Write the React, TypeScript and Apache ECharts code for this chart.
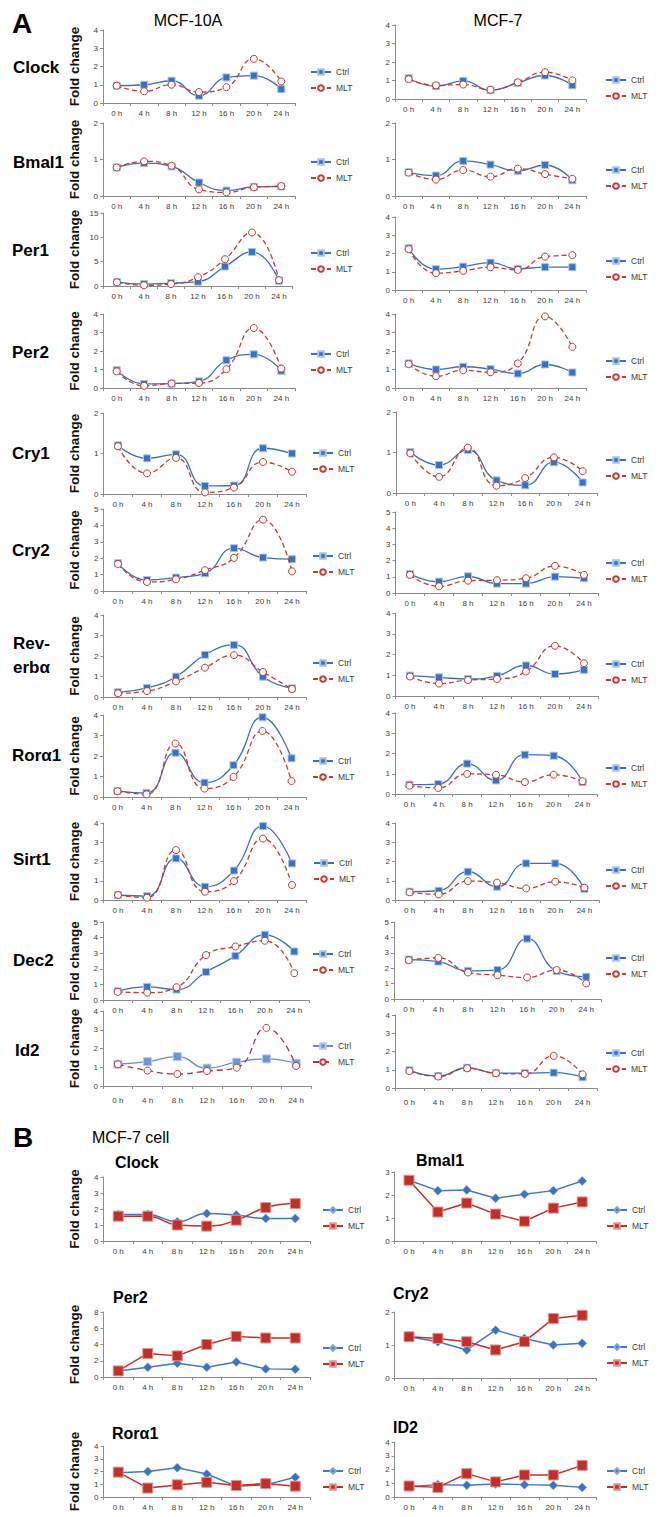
import React, { useEffect, useRef } from 'react';
import * as echarts from 'echarts';

const hours = ['0 h', '4 h', '8 h', '12 h', '16 h', '20 h', '24 h'];

// ---- Panel A, MCF-10A ----
const a10ClockCtrl = [0.95, 1.0, 1.22, 0.4, 1.4, 1.5, 0.76];
const a10ClockMlt = [0.95, 0.64, 1.0, 0.6, 0.87, 2.42, 1.18];
const a10Bmal1Ctrl = [0.78, 0.9, 0.81, 0.37, 0.15, 0.25, 0.26];
const a10Bmal1Mlt = [0.78, 0.95, 0.83, 0.18, 0.1, 0.24, 0.27];
const a10Per1Ctrl = [0.8, 0.4, 0.6, 0.9, 4.0, 7.0, 1.1];
const a10Per1Mlt = [0.75, 0.15, 0.4, 1.8, 5.5, 11.0, 1.2];
const a10Per2Ctrl = [0.96, 0.22, 0.24, 0.36, 1.5, 1.82, 0.93];
const a10Per2Mlt = [0.9, 0.12, 0.24, 0.27, 1.02, 3.24, 1.05];
const a10Cry1Ctrl = [1.2, 0.88, 0.98, 0.2, 0.21, 1.13, 1.0];
const a10Cry1Mlt = [1.18, 0.51, 0.89, 0.04, 0.16, 0.79, 0.55];
const a10Cry2Ctrl = [1.69, 0.67, 0.82, 1.08, 2.61, 2.04, 1.94];
const a10Cry2Mlt = [1.65, 0.55, 0.71, 1.27, 2.02, 4.35, 1.2];
const a10RevCtrl = [0.23, 0.44, 0.99, 2.06, 2.54, 0.99, 0.42];
const a10RevMlt = [0.18, 0.29, 0.76, 1.43, 2.04, 1.22, 0.39];
const a10RorCtrl = [0.29, 0.2, 2.16, 0.7, 1.55, 3.89, 1.89];
const a10RorMlt = [0.28, 0.13, 2.61, 0.41, 0.98, 3.22, 0.78];
const a10Sirt1Ctrl = [0.26, 0.2, 2.16, 0.69, 1.53, 3.84, 1.9];
const a10Sirt1Mlt = [0.26, 0.12, 2.59, 0.43, 0.98, 3.19, 0.78];
const a10Dec2Ctrl = [0.56, 0.84, 0.67, 1.8, 2.83, 4.18, 3.11];
const a10Dec2Mlt = [0.52, 0.47, 0.82, 2.88, 3.43, 3.8, 1.72];
const a10Id2Ctrl = [1.16, 1.3, 1.57, 0.95, 1.27, 1.45, 1.2];
const a10Id2Mlt = [1.16, 0.82, 0.64, 0.8, 0.98, 3.1, 1.07];

// ---- Panel A, MCF-7 ----
const a7ClockCtrl = [1.12, 0.69, 0.98, 0.47, 0.87, 1.27, 0.74];
const a7ClockMlt = [1.07, 0.74, 0.78, 0.5, 0.9, 1.45, 1.01];
const a7Bmal1Ctrl = [0.65, 0.56, 0.96, 0.86, 0.69, 0.85, 0.43];
const a7Bmal1Mlt = [0.64, 0.45, 0.71, 0.53, 0.75, 0.6, 0.47];
const a7Per1Ctrl = [2.29, 1.14, 1.28, 1.5, 1.16, 1.25, 1.25];
const a7Per1Mlt = [2.24, 0.92, 1.05, 1.25, 1.1, 1.83, 1.91];
const a7Per2Ctrl = [1.33, 1.0, 1.15, 1.02, 0.78, 1.27, 0.84];
const a7Per2Mlt = [1.29, 0.64, 0.96, 0.85, 1.33, 3.87, 2.22];
const a7Cry1Ctrl = [1.01, 0.69, 1.06, 0.31, 0.19, 0.76, 0.26];
const a7Cry1Mlt = [0.98, 0.4, 1.12, 0.18, 0.37, 0.88, 0.54];
const a7Cry2Ctrl = [1.18, 0.7, 1.03, 0.58, 0.58, 1.01, 0.91];
const a7Cry2Mlt = [1.12, 0.41, 0.76, 0.79, 0.91, 1.67, 1.12];
const a7RevCtrl = [0.98, 0.9, 0.82, 0.97, 1.47, 1.06, 1.26];
const a7RevMlt = [0.94, 0.6, 0.77, 0.82, 1.18, 2.42, 1.58];
const a7RorCtrl = [0.46, 0.49, 1.5, 0.67, 1.94, 1.89, 0.59];
const a7RorMlt = [0.41, 0.3, 0.99, 0.95, 0.59, 0.95, 0.63];
const a7Sirt1Ctrl = [0.43, 0.48, 1.47, 0.69, 1.9, 1.9, 0.57];
const a7Sirt1Mlt = [0.4, 0.29, 0.98, 0.9, 0.6, 0.95, 0.64];
const a7Dec2Ctrl = [2.56, 2.43, 1.83, 1.88, 3.92, 1.81, 1.44];
const a7Dec2Mlt = [2.52, 2.67, 1.72, 1.55, 1.4, 1.88, 1.01];
const a7Id2Ctrl = [0.97, 0.66, 1.11, 0.81, 0.81, 0.84, 0.59];
const a7Id2Mlt = [0.93, 0.63, 1.08, 0.81, 0.77, 1.76, 0.75];

// ---- Panel B, MCF-7 cell ----
const bClockCtrl = [1.66, 1.66, 1.2, 1.72, 1.62, 1.41, 1.41];
const bClockMlt = [1.55, 1.55, 1.0, 0.93, 1.3, 2.09, 2.34];
const bBmal1Ctrl = [2.64, 2.19, 2.22, 1.86, 2.03, 2.19, 2.61];
const bBmal1Mlt = [2.64, 1.26, 1.65, 1.17, 0.86, 1.43, 1.7];
const bPer2Ctrl = [0.75, 1.2, 1.7, 1.2, 1.85, 1.0, 0.95];
const bPer2Mlt = [0.75, 2.9, 2.6, 4.0, 5.0, 4.8, 4.8];
const bCry2Ctrl = [1.25, 1.1, 0.85, 1.45, 1.2, 1.0, 1.05];
const bCry2Mlt = [1.25, 1.2, 1.1, 0.85, 1.1, 1.8, 1.9];
const bRorCtrl = [1.9, 2.0, 2.3, 1.8, 0.85, 0.95, 1.55];
const bRorMlt = [1.95, 0.7, 0.95, 1.15, 0.9, 1.05, 0.85];
const bId2Ctrl = [0.75, 0.9, 0.85, 0.95, 0.9, 0.85, 0.7];
const bId2Mlt = [0.8, 0.7, 1.7, 1.1, 1.6, 1.6, 2.3];

// y-axis maxima / intervals
const a10Max = [4, 2, 15, 4, 2, 5, 4, 4, 4, 5, 4];
const a10Step = [1, 1, 5, 1, 1, 1, 1, 1, 1, 1, 1];
const a7Max = [4, 2, 4, 4, 2, 5, 4, 4, 4, 5, 4];
const a7Step = [1, 1, 1, 1, 1, 1, 1, 1, 1, 1, 1];
const bMax = [4, 3, 8, 2, 4, 4];
const bStep = [1, 1, 2, 1, 1, 1];

const genesA = ['Clock', 'Bmal1', 'Per1', 'Per2', 'Cry1', 'Cry2', 'Rev-erbα', 'Rorα1', 'Sirt1', 'Dec2', 'Id2'];
const genesB = ['Clock', 'Bmal1', 'Per2', 'Cry2', 'Rorα1', 'ID2'];

const a10Data = [
  [a10ClockCtrl, a10ClockMlt], [a10Bmal1Ctrl, a10Bmal1Mlt], [a10Per1Ctrl, a10Per1Mlt], [a10Per2Ctrl, a10Per2Mlt],
  [a10Cry1Ctrl, a10Cry1Mlt], [a10Cry2Ctrl, a10Cry2Mlt], [a10RevCtrl, a10RevMlt], [a10RorCtrl, a10RorMlt],
  [a10Sirt1Ctrl, a10Sirt1Mlt], [a10Dec2Ctrl, a10Dec2Mlt], [a10Id2Ctrl, a10Id2Mlt],
];
const a7Data = [
  [a7ClockCtrl, a7ClockMlt], [a7Bmal1Ctrl, a7Bmal1Mlt], [a7Per1Ctrl, a7Per1Mlt], [a7Per2Ctrl, a7Per2Mlt],
  [a7Cry1Ctrl, a7Cry1Mlt], [a7Cry2Ctrl, a7Cry2Mlt], [a7RevCtrl, a7RevMlt], [a7RorCtrl, a7RorMlt],
  [a7Sirt1Ctrl, a7Sirt1Mlt], [a7Dec2Ctrl, a7Dec2Mlt], [a7Id2Ctrl, a7Id2Mlt],
];
const bData = [
  [bClockCtrl, bClockMlt], [bBmal1Ctrl, bBmal1Mlt], [bPer2Ctrl, bPer2Mlt],
  [bCry2Ctrl, bCry2Mlt], [bRorCtrl, bRorMlt], [bId2Ctrl, bId2Mlt],
];

// ---- layout (pixels) ----
// [top, bottom, left, width, legendX, legendY, labelMargin]
const layA10 = [
  [30, 103, 103, 192, 310, 72, 6],
  [123, 196, 103, 192, 310, 162, 6],
  [213, 286, 103.5, 189, 310, 253, 6],
  [314, 388, 103, 192, 310, 354, 6],
  [413, 494, 103.5, 203, 312, 453, 6],
  [509, 591, 103.5, 203, 312, 556, 6],
  [615, 697, 103.5, 203, 312, 663, 6],
  [715, 797, 103, 203, 312, 761, 6],
  [823, 900, 103.5, 203, 313, 863, 6],
  [922, 1000, 103, 206, 312, 954, 6],
  [1011, 1086, 103, 208, 312, 1046, 10],
];
const layA7 = [
  [25, 99, 395, 191, 605, 80, 6],
  [123, 196, 395, 191, 605, 170, 6],
  [217, 290, 395, 191, 605, 261, 6],
  [314, 388, 395, 191, 605, 361, 6],
  [412, 493, 396, 201, 605, 460, 6],
  [512, 593, 395.5, 203, 605, 563, 6],
  [613, 696, 395.5, 203, 605, 664, 6],
  [713, 794, 395, 202, 605, 768, 6],
  [823, 900, 395, 204, 605, 870, 6],
  [922, 999, 394, 207, 605, 958, 6],
  [1015, 1088, 395, 202, 605, 1053, 10],
];
const layB = [
  [1177, 1241, 103.5, 206.5, 322, 1210, 6],
  [1172, 1241, 394.6, 202, 606, 1210, 6],
  [1312, 1377, 103.5, 206.5, 322, 1348, 6],
  [1312, 1378, 394.6, 202, 606, 1347, 6],
  [1446, 1497, 103.5, 206.5, 322, 1471, 6],
  [1442, 1497, 394.6, 202, 606, 1471, 6],
];
// gene label positions panel A: [x, y]
const geneAPos = [[13, 67], [13, 162], [12, 250], [12, 352], [12, 453], [12, 550], [13, 655], [12, 755], [13, 859], [13, 960], [15, 1050]];
const titleBPos = [[115, 1162], [416, 1160], [113, 1297], [393, 1293], [112, 1433], [393, 1427]];

const FONT = '"Liberation Sans", Arial, Helvetica, sans-serif';
const BLUE = '#3e6fb6';
const BLUE_MK = '#3a72c2';
const BLUE_BD = '#a8c3ea';
const RED = '#c53a31';
const AX = '#8c8c8c';
const LBL = '#3c3c3c';

type Sty = 'A' | 'I' | 'B';

function buildOption() {
  const grid: any[] = [];
  const xAxis: any[] = [];
  const yAxis: any[] = [];
  const series: any[] = [];
  const legend: any[] = [];
  const graphic: any[] = [];

  const add = (lay: number[], max: number, step: number, pair: number[][], sty: Sty, fold: boolean, smooth: boolean) => {
    const i = grid.length;
    const [top, bottom, left, width, lx, ly, lm] = lay;
    grid.push({ left, top, width, height: bottom - top });
    xAxis.push({
      type: 'category', gridIndex: i, data: hours, boundaryGap: true,
      axisLine: { lineStyle: { color: AX, width: 1 } },
      axisTick: { show: true, length: 3, lineStyle: { color: AX } },
      axisLabel: { fontSize: 8, color: LBL, margin: lm, fontFamily: FONT, interval: 0 },
      splitLine: { show: false },
    });
    yAxis.push({
      type: 'value', gridIndex: i, min: 0, max, interval: step,
      splitLine: { show: false },
      axisLine: { show: true, lineStyle: { color: AX, width: 1 } },
      axisTick: { show: true, length: 3, lineStyle: { color: AX } },
      axisLabel: { fontSize: 8, color: LBL, margin: 5, fontFamily: FONT },
      name: fold ? 'Fold change' : '',
      nameLocation: 'middle', nameGap: 22, nameRotate: 90,
      nameTextStyle: { fontSize: 13.5, fontWeight: 'bold', color: '#111', fontFamily: FONT },
    });
    let ctrl: any, mlt: any;
    if (sty === 'B') {
      ctrl = {
        name: 'B|Ctrl', symbol: 'diamond', symbolSize: 9, color: '#3b73c0',
        lineStyle: { color: '#4477bd', width: 1.5 },
        itemStyle: { color: '#3b73c0', borderColor: '#7fa3d8', borderWidth: 0.6 },
      };
      mlt = {
        name: 'B|MLT', symbol: 'rect', symbolSize: 10, color: '#c0302b',
        lineStyle: { color: '#c0302b', width: 1.5 },
        itemStyle: { color: '#c0302b', borderColor: '#e3928e', borderWidth: 1 },
      };
    } else if (sty === 'I') {
      ctrl = {
        name: 'I|Ctrl', symbol: 'rect', symbolSize: 8, color: '#6a8fd0',
        lineStyle: { color: '#7586c2', width: 1.3 },
        itemStyle: { color: '#6b96d6', borderColor: '#b5cbee', borderWidth: 1 },
      };
      mlt = {
        name: 'I|MLT', symbol: 'circle', symbolSize: 7, color: '#a3345a',
        lineStyle: { color: '#a3345a', width: 1.3, type: [6, 4] },
        itemStyle: { color: '#fff', borderColor: '#c53a3a', borderWidth: 1 },
      };
    } else {
      ctrl = {
        name: 'A|Ctrl', symbol: 'rect', symbolSize: 7, color: BLUE_MK,
        lineStyle: { color: BLUE, width: 1.3 },
        itemStyle: { color: BLUE_MK, borderColor: BLUE_BD, borderWidth: 1 },
      };
      mlt = {
        name: 'A|MLT', symbol: 'circle', symbolSize: 7, color: RED,
        lineStyle: { color: RED, width: 1.3, type: [5, 3] },
        itemStyle: { color: '#fff', borderColor: RED, borderWidth: 1 },
      };
    }
    series.push({ ...ctrl, type: 'line', xAxisIndex: i, yAxisIndex: i, data: pair[0], smooth, z: 2 });
    series.push({ ...mlt, type: 'line', xAxisIndex: i, yAxisIndex: i, data: pair[1], smooth, z: 3 });
    legend.push({
      orient: 'vertical', left: lx, top: ly - 5, padding: 0,
      itemWidth: 20, itemHeight: 7, itemGap: 6, selectedMode: false,
      data: [ctrl.name, mlt.name],
      formatter: (n: string) => n.split('|')[1],
      textStyle: { fontSize: 8.5, color: LBL, fontFamily: FONT, lineHeight: 10 },
    });
  };

  genesA.forEach((g, k) => {
    add(layA10[k], a10Max[k], a10Step[k], a10Data[k], k === 10 ? 'I' : 'A', true, true);
    add(layA7[k], a7Max[k], a7Step[k], a7Data[k], 'A', false, true);
  });
  genesB.forEach((g, k) => {
    add(layB[k], bMax[k], bStep[k], bData[k], 'B', k % 2 === 0, k === 0);
  });

  const txt = (text: string, x: number, y: number, size: number, bold: boolean, align = 'left') => ({
    type: 'text', x, y, silent: true,
    style: {
      text, fill: '#000', fontSize: size, fontWeight: bold ? 'bold' : 'normal', fontFamily: FONT,
      align, verticalAlign: 'middle',
    },
  });

  graphic.push(txt('A', 12, 23, 28, true));
  graphic.push(txt('MCF-10A', 188, 20, 16, false, 'center'));
  graphic.push(txt('MCF-7', 498, 20, 16, false, 'center'));
  genesA.forEach((g, k) => {
    const [x, y] = geneAPos[k];
    if (g === 'Rev-erbα') {
      graphic.push(txt('Rev-', x, 643, 17, true));
      graphic.push(txt('erbα', x, 667, 17, true));
    } else {
      graphic.push(txt(g, x, y, 17, true));
    }
  });
  graphic.push(txt('B', 13, 1137, 28, true));
  graphic.push(txt('MCF-7 cell', 92, 1137, 16, false));
  genesB.forEach((g, k) => {
    const [x, y] = titleBPos[k];
    graphic.push(txt(g, x, y, 16, true));
  });

  return {
    animation: false,
    backgroundColor: '#ffffff',
    textStyle: { fontFamily: FONT },
    grid, xAxis, yAxis, series, legend, graphic,
  };
}

export default function App() {
  const ref = useRef<HTMLDivElement>(null);
  useEffect(() => {
    document.body.style.margin = '0';
    if (!ref.current) return;
    const chart = echarts.init(ref.current, undefined, { renderer: 'svg' });
    chart.setOption(buildOption() as any);
    return () => chart.dispose();
  }, []);
  return <div ref={ref} style={{ width: 659, height: 1517, position: 'absolute', left: 0, top: 0 }} />;
}
